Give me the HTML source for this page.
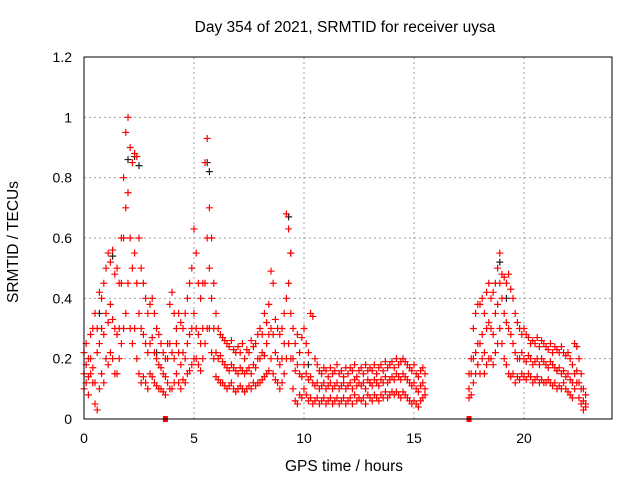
<!DOCTYPE html>
<html><head><meta charset="utf-8"><style>
body{margin:0;background:#fff;}
svg{display:block;font-family:"Liberation Sans",sans-serif;}
</style></head><body>
<svg id="chart" width="640" height="480" xmlns="http://www.w3.org/2000/svg">
<rect width="640" height="480" fill="#fff"/>
<text x="345" y="32" font-size="15.5" text-anchor="middle">Day 354 of 2021, SRMTID for receiver uysa</text>
<text transform="translate(18,242) rotate(-90)" font-size="15.5" text-anchor="middle">SRMTID / TECUs</text>
<text x="344" y="471" font-size="15.5" text-anchor="middle">GPS time / hours</text>
<g id="grid"></g><g id="marks"></g><g id="axes"></g>
</svg>
<script>
const xTicks=[0,5,10,15,20];
const yTicks=[0,0.2,0.4,0.6,0.8,1,1.2];
const yTickLabels=["0","0.2","0.4","0.6","0.8","1","1.2"];
const segAStart=0, segAEnd=15.5, segBStart=17.5, segBEnd=22.8;
const hiA=[.22,.25,.2,.28,.3,.35,.3,.42,.4,.45,.5,.55,.52,.56,.48,.5,.45,.6,.8,.95,1.0,.9,.85,.88,.87,.6,.5,.45,.4,.35,.38,.4,.35,.3,.28,.25,.22,.2,.25,.38,.42,.35,.3,.35,.32,.3,.35,.4,.45,.5,.63,.55,.45,.4,.45,.85,.93,.7,.6,.45,.35,.3,.28,.27,.26,.25,.24,.26,.23,.22,.24,.22,.25,.2,.23,.22,.26,.24,.25,.28,.3,.28,.35,.32,.38,.49,.45,.33,.3,.28,.3,.35,.68,.63,.55,.3,.25,.28,.22,.27,.3,.25,.22,.35,.34,.2,.18,.16,.15,.17,.16,.14,.17,.15,.16,.18,.15,.16,.14,.17,.15,.17,.16,.18,.14,.16,.17,.15,.18,.16,.17,.16,.18,.15,.17,.18,.16,.19,.17,.18,.19,.17,.2,.18,.19,.2,.19,.18,.17,.16,.18,.15,.14,.16,.17,.15];
const midA=[.15,.18,.14,.2,.17,.12,.22,.25,.3,.28,.35,.32,.38,.33,.3,.28,.3,.45,.6,.7,.75,.6,.5,.55,.45,.35,.3,.28,.25,.22,.25,.27,.22,.2,.18,.17,.15,.14,.2,.25,.22,.2,.25,.22,.18,.22,.2,.25,.28,.3,.35,.3,.28,.25,.3,.45,.6,.5,.4,.3,.22,.2,.21,.19,.18,.17,.16,.18,.17,.16,.15,.17,.16,.15,.16,.17,.15,.18,.17,.2,.2,.22,.21,.25,.28,.3,.28,.22,.2,.18,.2,.25,.4,.45,.35,.2,.16,.18,.15,.14,.18,.15,.13,.14,.12,.11,.12,.1,.11,.12,.1,.11,.12,.1,.11,.12,.1,.11,.12,.1,.11,.12,.1,.13,.11,.12,.11,.12,.1,.13,.12,.11,.13,.12,.11,.13,.12,.14,.12,.13,.14,.13,.15,.14,.13,.15,.14,.13,.12,.11,.12,.1,.09,.11,.12,.1];
const loA=[.1,.12,.08,.15,.12,.05,.03,.1,.15,.12,.2,.18,.22,.2,.15,.15,.2,.25,.3,.35,.45,.3,.25,.3,.2,.15,.12,.14,.12,.1,.15,.14,.12,.11,.1,.1,.09,.08,.12,.1,.1,.12,.15,.12,.1,.13,.12,.15,.16,.18,.2,.2,.18,.16,.2,.25,.3,.3,.22,.2,.14,.13,.12,.12,.11,.1,.11,.12,.1,.09,.1,.11,.1,.09,.1,.11,.1,.12,.11,.12,.12,.13,.14,.15,.16,.2,.15,.13,.12,.1,.12,.15,.2,.25,.2,.1,.06,.05,.08,.07,.1,.08,.06,.07,.05,.06,.07,.05,.06,.07,.05,.06,.07,.05,.06,.07,.05,.06,.07,.05,.06,.07,.05,.08,.06,.07,.06,.07,.05,.08,.07,.06,.08,.07,.06,.08,.07,.09,.07,.08,.09,.08,.09,.08,.07,.09,.08,.07,.06,.05,.06,.05,.04,.06,.07,.08];
const hiB=[.15,.2,.3,.35,.38,.38,.4,.35,.42,.45,.4,.42,.45,.5,.55,.48,.47,.45,.48,.43,.4,.35,.32,.3,.28,.3,.28,.27,.25,.26,.25,.27,.24,.26,.25,.24,.23,.25,.22,.24,.23,.22,.24,.22,.21,.22,.2,.18,.25,.24,.2,.15,.1,.08];
const midB=[.1,.15,.2,.22,.25,.25,.28,.22,.3,.32,.3,.28,.35,.38,.45,.4,.35,.32,.3,.28,.25,.22,.2,.2,.22,.2,.19,.21,.2,.18,.19,.2,.18,.2,.19,.18,.17,.19,.18,.17,.16,.17,.15,.16,.14,.15,.13,.12,.15,.16,.12,.1,.06,.05];
const loB=[.07,.08,.12,.15,.18,.15,.2,.15,.18,.2,.2,.18,.22,.25,.3,.25,.2,.18,.15,.14,.15,.12,.14,.13,.15,.14,.13,.15,.14,.12,.13,.14,.12,.13,.12,.12,.13,.12,.11,.12,.1,.11,.1,.12,.1,.09,.08,.07,.1,.12,.07,.05,.03,.04];
const blackT=[1.3,2.0,2.3,2.5,5.6,5.7,9.3,9.4,18.9,19.2,0.7,3.3,10.2,13.0,21.5];
const blackV=[.54,.86,.87,.84,.85,.82,.67,.55,.52,.4,.35,.22,.18,.12,.16];
const gapHours=[3.7,17.5];

const X0=84,X1=612,Y0=419,Y1=57;
const sx=h=>X0+(h/24)*(X1-X0);
const sy=v=>Y0-(v/1.2)*(Y0-Y1);
const NS="http://www.w3.org/2000/svg";
function mk(tag,parent,attrs){const e=document.createElementNS(NS,tag);for(const k in attrs)e.setAttribute(k,attrs[k]);parent.appendChild(e);return e;}
const grid=document.getElementById('grid'),marks=document.getElementById('marks'),axes=document.getElementById('axes');
yTicks.forEach((v,i)=>{
  if(v>0&&v<1.2){const l=mk('line',grid,{x1:X0,x2:X1,y1:sy(v),y2:sy(v),stroke:'#a0a0a0','stroke-dasharray':'2,3'});
  
  }
  const t=mk('text',axes,{x:X0-12,y:sy(v)+5,'font-size':14,'text-anchor':'end'});t.textContent=yTickLabels[i];
  
  
});
xTicks.forEach(h=>{
  if(h>0){const l=mk('line',grid,{x1:sx(h),x2:sx(h),y1:Y0,y2:Y1,stroke:'#a0a0a0','stroke-dasharray':'2,3'});
  
  }
  const t=mk('text',axes,{x:sx(h),y:Y0+24,'font-size':14,'text-anchor':'middle'});t.textContent=String(h);
  
  
});
const frame=mk('rect',axes,{x:X0,y:Y1,width:X1-X0,height:Y0-Y1,fill:'none',stroke:'#000','stroke-width':1});


function plus(h,v,col){const x=sx(h),y=sy(v);
  const p=mk('path',marks,{d:`M${x-3.5},${y}H${x+3.5}M${x},${y-3.5}V${y+3.5}`,stroke:col,'stroke-width':1.2});
  
  }
blackT.forEach((h,i)=>plus(h,blackV[i],'#222'));
[hiA,midA,loA].forEach(arr=>arr.forEach((v,i)=>plus(segAStart+i*0.1,v,'#ff0000')));
[hiB,midB,loB].forEach(arr=>arr.forEach((v,i)=>plus(segBStart+i*0.1,v,'#ff0000')));
gapHours.forEach(h=>{const r=mk('rect',marks,{x:sx(h)-2.5,y:Y0-3,width:5,height:6,fill:'#ff0000'});
  
  });
</script>
</body></html>
